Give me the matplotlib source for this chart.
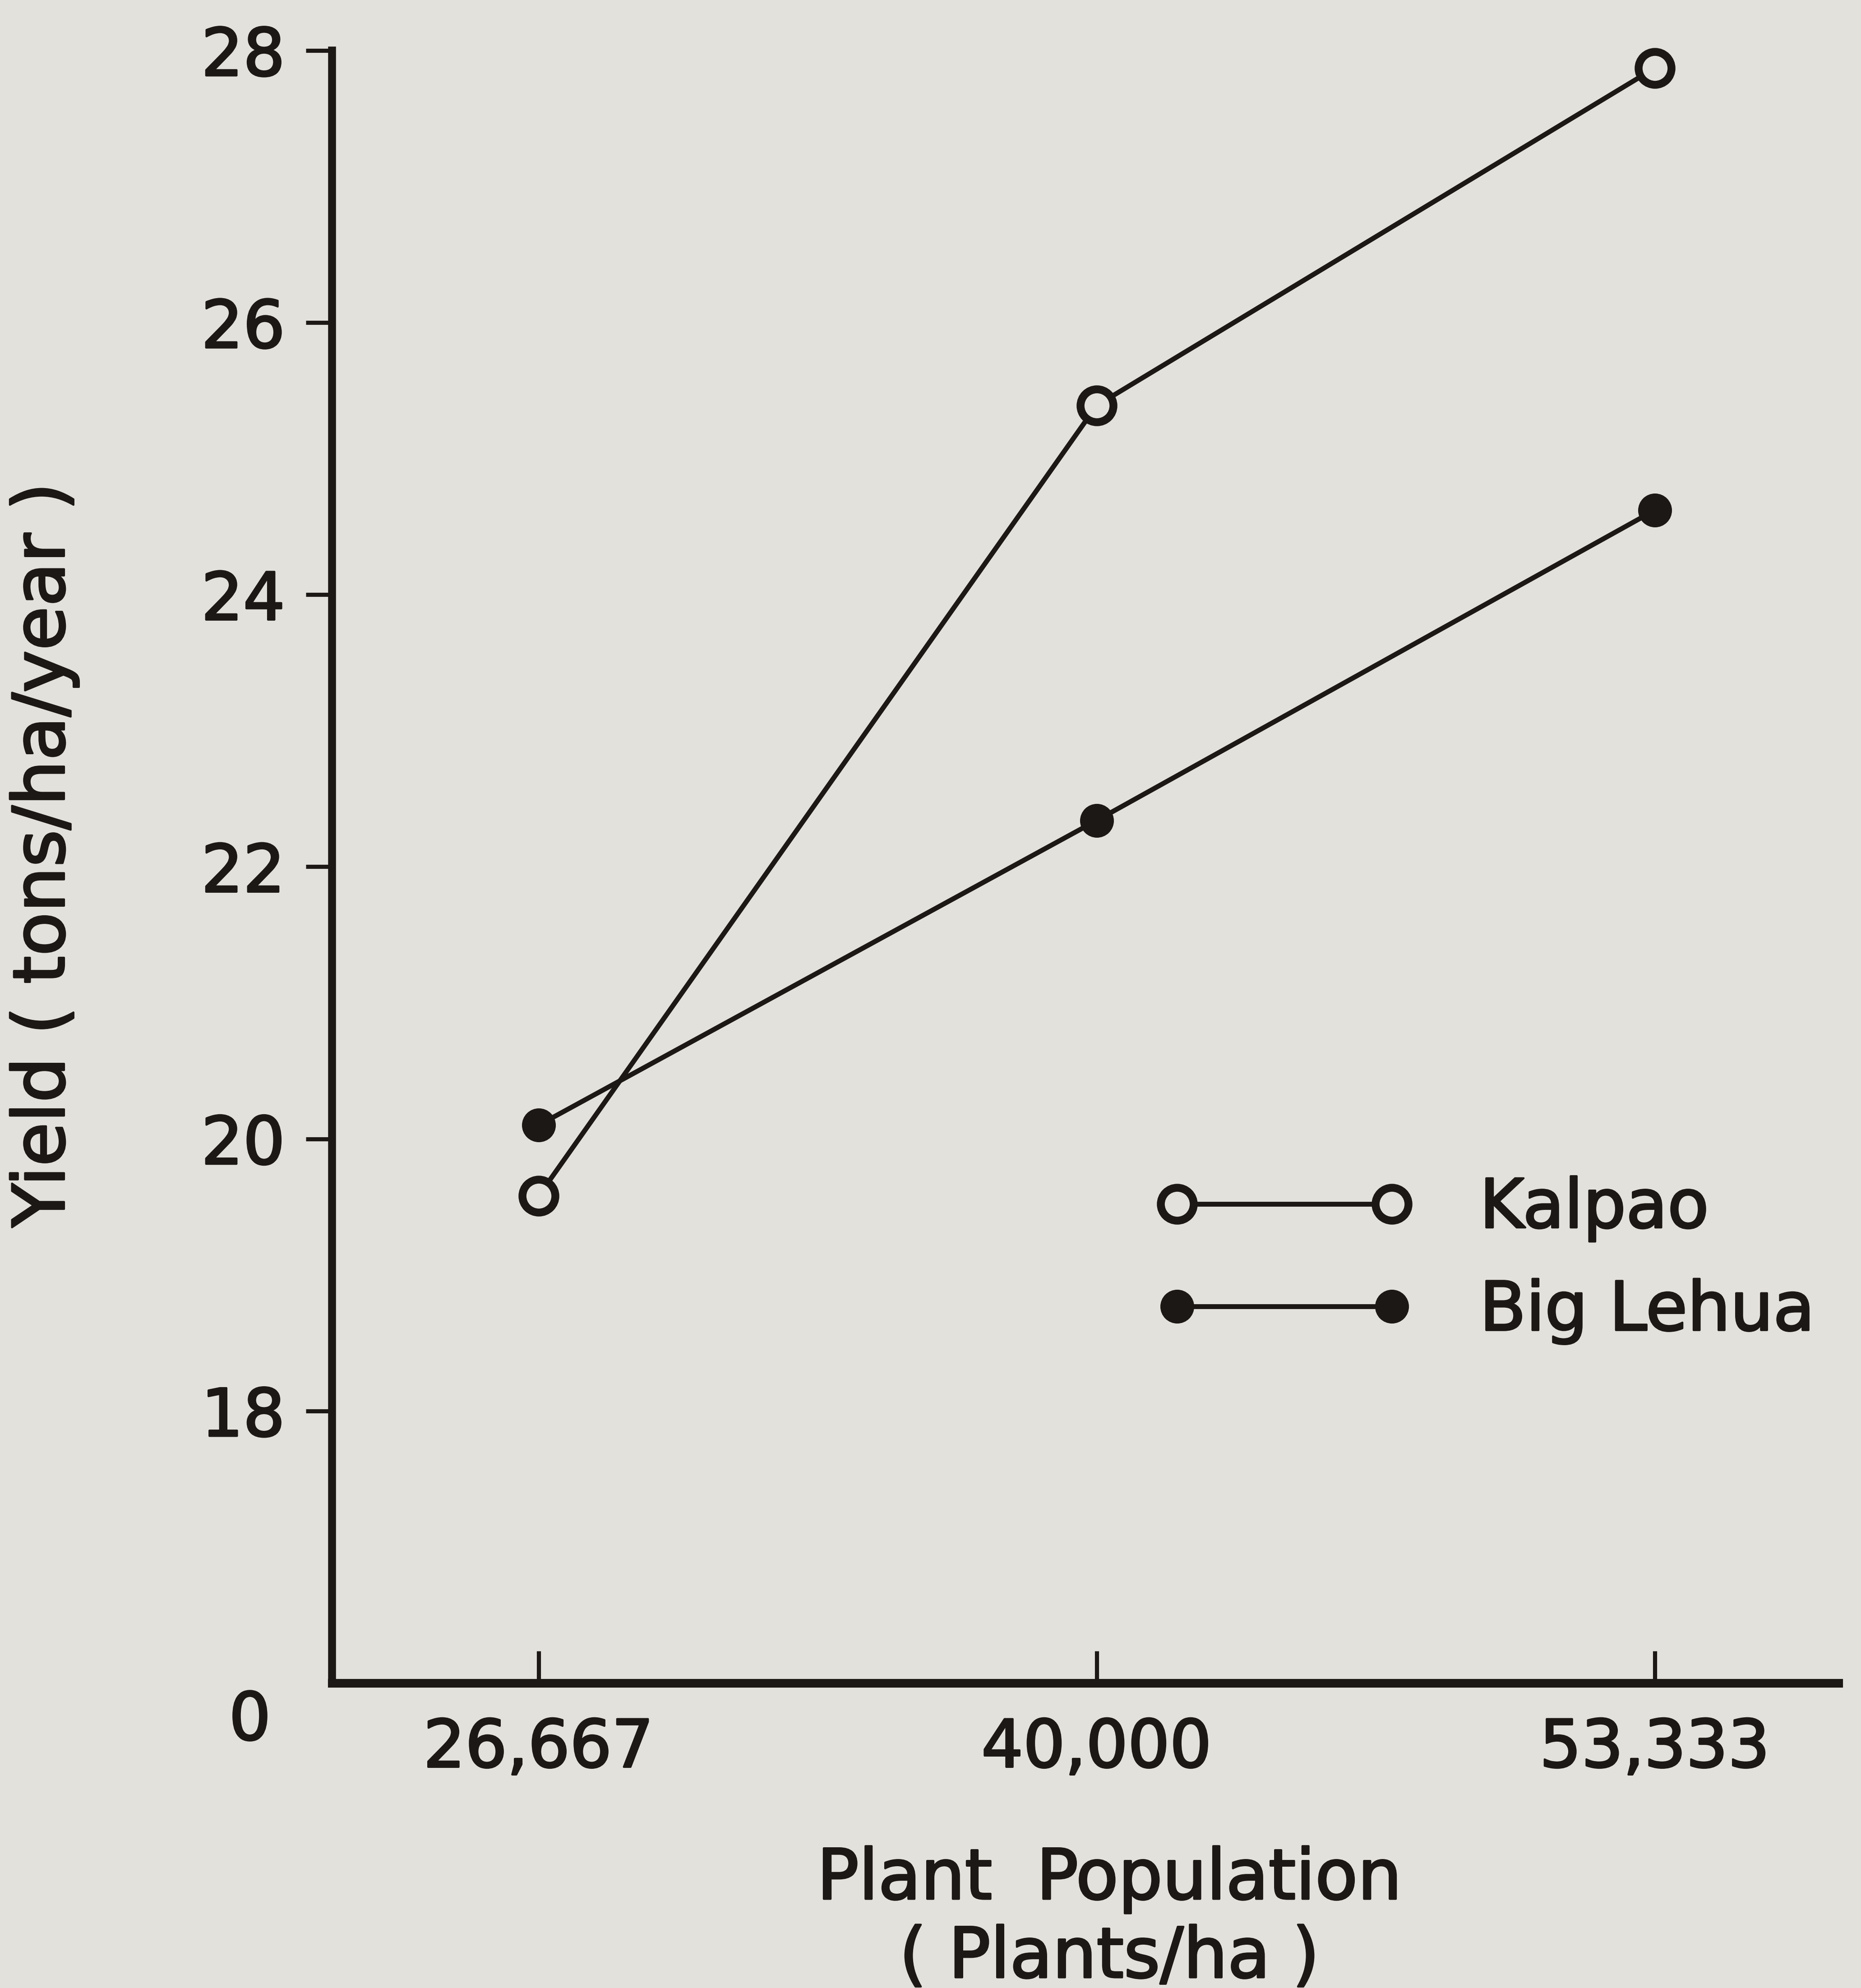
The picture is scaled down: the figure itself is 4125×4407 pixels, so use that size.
import matplotlib
matplotlib.use("Agg")
import matplotlib.pyplot as plt
import matplotlib.patheffects as pe

# values
populations = [26667, 40000, 53333]
kalpao = [19.58, 25.39, 27.87]
big_lehua = [20.10, 22.34, 24.62]
x_tick_labels = ["26,667", "40,000", "53,333"]
y_ticks = [18, 20, 22, 24, 26, 28]

PAPER = "#e3e1dc"
INK = "#1c1815"
# thickens the regular face a little, the lettering is between regular and bold
THICK = [pe.withStroke(linewidth=1.0, foreground=INK)]

plt.rcParams["font.family"] = ["DejaVu Sans"]

fig = plt.figure(figsize=(13.75, 14.69), dpi=300, facecolor=PAPER)
ax = fig.add_axes([0.1784, 0.1534, 0.988 - 0.1784, 0.9746 - 0.1534])
ax.set_facecolor(PAPER)

ax.plot(populations, kalpao, color=INK, lw=2.6, marker="o", ms=17.5,
        mfc=PAPER, mec=INK, mew=4.2, label="Kalpao", clip_on=False, zorder=3)
ax.plot(populations, big_lehua, color=INK, lw=2.6, marker="o", ms=16.5,
        mfc=INK, mec=INK, mew=1.5, label="Big Lehua", clip_on=False, zorder=3)

ax.set_xlim(21732, 57730)
ax.set_ylim(16, 28)

for side in ("top", "right"):
    ax.spines[side].set_visible(False)
ax.spines["left"].set_linewidth(4.2)
ax.spines["bottom"].set_linewidth(4.6)
ax.spines["left"].set_color(INK)
ax.spines["bottom"].set_color(INK)

ax.set_xticks(populations)
ax.set_xticklabels(x_tick_labels)
ax.set_yticks(y_ticks)
ax.set_yticklabels([str(v) for v in y_ticks])
# cap at the top of the y axis
ax.set_yticks([28], minor=True)

ax.tick_params(axis="x", direction="in", length=17, width=2.2, pad=18,
               labelsize=35, colors=INK)
ax.tick_params(axis="y", which="major", direction="out", length=14, width=2.2,
               pad=11, labelsize=35, colors=INK)
ax.tick_params(axis="y", which="minor", direction="in", length=14, width=2.2,
               colors=INK)
for lab in ax.get_xticklabels() + ax.get_yticklabels():
    lab.set_path_effects(THICK)

fig.text(554 / 4125, 1 - 3816 / 4407, "0", fontsize=35, color=INK,
         ha="center", va="center", path_effects=THICK)

fig.text(98 / 4125, 1 - 1895 / 4407, "Yield ( tons/ha/year )", fontsize=38,
         color=INK, rotation=90, ha="center", va="center", path_effects=THICK)
fig.text(2459 / 4125, 1 - 4167 / 4407, "Plant  Population", fontsize=37,
         color=INK, ha="center", va="center", path_effects=THICK)
fig.text(2459 / 4125, 1 - 4341 / 4407, "( Plants/ha )", fontsize=37,
         color=INK, ha="center", va="center", path_effects=THICK)

leg = ax.legend(loc="upper left", bbox_to_anchor=(0.6216, 0.4084),
                bbox_transform=fig.transFigure, frameon=False, numpoints=2,
                handlelength=3.77, handletextpad=1.0, labelspacing=0.55,
                fontsize=36, borderpad=0, borderaxespad=0)
for t in leg.get_texts():
    t.set_color(INK)
    t.set_path_effects(THICK)

fig.savefig("out.png", dpi=300, facecolor=PAPER)
